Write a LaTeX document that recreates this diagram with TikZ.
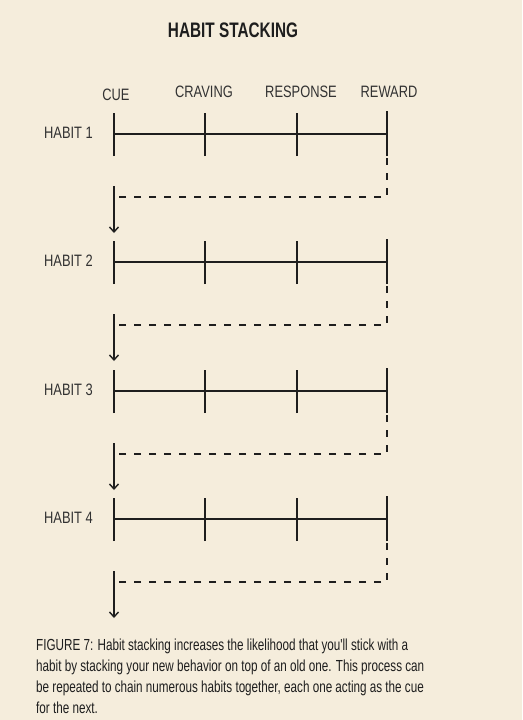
\documentclass[tikz,border=0pt]{standalone}
\usepackage{fontspec}
\usetikzlibrary{arrows.meta}
\newfontfamily\titlefont[FakeStretch=0.73]{Liberation Sans}
\newfontfamily\labfont[FakeStretch=0.78]{Liberation Sans}
\newfontfamily\capfont[FakeStretch=0.73]{Liberation Sans}
\definecolor{bgc}{RGB}{245,237,220}
\definecolor{ink}{RGB}{30,30,30}
\definecolor{labc}{RGB}{50,50,50}
\tikzset{
  axisline/.style={ink, line width=2.8pt},
  tickline/.style={ink, line width=2.4pt},
  linkline/.style={ink, line width=2pt, dash pattern=on 7pt off 8pt},
  arrowline/.style={ink, line width=1.6pt, -{Straight Barb[length=5pt,width=9pt,line width=1.4pt]}},
  collab/.style={labc, font=\labfont\fontsize{16.5}{18}\selectfont, anchor=base, inner sep=0pt},
  rowlab/.style={labc, font=\labfont\fontsize{16.5}{18}\selectfont, anchor=east, inner sep=0pt},
  captext/.style={ink, font=\capfont\fontsize{16}{18}\selectfont, anchor=base west, inner sep=0pt},
}
\begin{document}
\begin{tikzpicture}[x=1pt,y=-1pt]
\fill[bgc] (0,0) rectangle (522,720);
\useasboundingbox (0,0) rectangle (522,720);
\node[ink, font=\titlefont\bfseries\fontsize{21}{24}\selectfont, anchor=base, inner sep=0pt] (title) at (233,37) {HABIT STACKING};
\node[collab] (cue) at (116,100) {CUE};
\node[collab] (craving) at (204,97) {CRAVING};
\node[collab] (response) at (301,97) {RESPONSE};
\node[collab] (reward) at (389,97) {REWARD};
\foreach \r/\y in {1/134,2/262,3/391,4/519}{
  \node[rowlab] (h\r) at (93,\y-1) {HABIT \r};
  \coordinate (a\r) at (114,\y);
  \coordinate (b\r) at (205,\y);
  \coordinate (c\r) at (297,\y);
  \coordinate (d\r) at (387,\y);
  \draw[axisline] (a\r) -- (d\r);
  \foreach \p in {a,b,c}{
    \draw[tickline] ([yshift=-22pt]\p\r) -- ([yshift=21pt]\p\r);
  }
  \draw[tickline] ([yshift=-22pt]d\r) -- ([yshift=23pt]d\r);
  \coordinate (s\r) at (387,\y+24);
  \coordinate (q\r) at (387,\y+63);
  \coordinate (p\r) at (114,\y+63);
  \coordinate (e\r) at (114,\y+99);
  \draw[linkline] (s\r) -- (q\r) -- (p\r) -- ([yshift=8pt]p\r);
  \draw[arrowline] ([yshift=11pt]p\r) -- (e\r);
}
\node[captext] (cap1) at (36,650) {FIGURE 7: Habit stacking increases the likelihood that you'll stick with a};
\node[captext] (cap2) at (36,671) {habit by stacking your new behavior on top of an old one. This process can};
\node[captext] (cap3) at (36,692) {be repeated to chain numerous habits together, each one acting as the cue};
\node[captext] (cap4) at (36,713) {for the next.};
\end{tikzpicture}
\end{document}
